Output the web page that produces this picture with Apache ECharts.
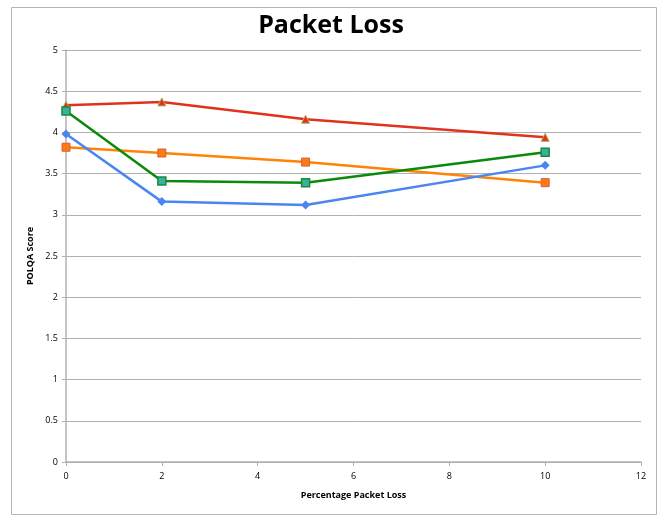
<!DOCTYPE html>
<html><head><meta charset="utf-8">
<script src="https://cdn.jsdelivr.net/npm/echarts@6/dist/echarts.min.js"></script>
<style>html,body{margin:0;padding:0;background:#fff}#c{width:662px;height:519px}</style>
</head><body><div id="c"></div>
<script>
const xValues = [0, 2, 5, 10];
const redSeries = [4.33, 4.37, 4.16, 3.94];
const orangeSeries = [3.82, 3.75, 3.64, 3.39];
const greenSeries = [4.26, 3.41, 3.39, 3.76];
const blueSeries = [3.98, 3.16, 3.12, 3.60];

const pairs = v => xValues.map((x, i) => [x, v[i]]);
const chart = echarts.init(document.getElementById('c'));
const font = '"Open Sans", "Liberation Sans", sans-serif';
function mk(name, data, color, symbol, size, itemStyle) {
  return { name, type: 'line', data: pairs(data), symbol, symbolSize: size,
    lineStyle: { color, width: 2.5 }, itemStyle, z: 3, animation: false };
}
chart.setOption({
  animation: false,
  title: { text: 'Packet Loss', left: 'center', top: 8,
    textStyle: { fontFamily: font, fontWeight: 'bold', fontSize: 25, color: '#000' } },
  graphic: [{ type: 'rect', shape: { x: 11.5, y: 7.5, width: 645, height: 507 },
    style: { fill: 'none', stroke: '#b5b5b5', lineWidth: 1 }, z: -1 }],
  grid: { left: 66, right: 21, top: 50, bottom: 57 },
  xAxis: { type: 'value', min: 0, max: 12, interval: 2,
    name: 'Percentage Packet Loss', nameLocation: 'middle', nameGap: 29,
    nameTextStyle: { fontFamily: font, fontWeight: 'bold', fontSize: 9, color: '#000' },
    axisLine: { lineStyle: { color: '#b0b0b0', width: 1.5 } },
    axisTick: { show: true, length: 4, lineStyle: { color: '#b0b0b0' } },
    axisLabel: { fontFamily: font, fontSize: 9, color: '#000', margin: 10 },
    splitLine: { show: false } },
  yAxis: { type: 'value', min: 0, max: 5, interval: 0.5,
    name: 'POLQA Score', nameLocation: 'middle', nameGap: 30,
    nameTextStyle: { fontFamily: font, fontWeight: 'bold', fontSize: 9, color: '#000' },
    axisLine: { show: true, lineStyle: { color: '#b0b0b0', width: 1.5 } },
    axisTick: { show: true, length: 4, lineStyle: { color: '#b0b0b0' } },
    axisLabel: { fontFamily: font, fontSize: 9, color: '#000', margin: 8 },
    splitLine: { lineStyle: { color: '#b0b0b0', width: 1 } } },
  series: [
    mk('Red', redSeries, '#e2311d', 'triangle', 8, { color: '#e2311d', borderColor: '#a8b060', borderWidth: 1 }),
    mk('Orange', orangeSeries, '#ff8306', 'rect', 8, { color: '#ff7a10', borderColor: '#d06040', borderWidth: 1 }),
    mk('Green', greenSeries, '#0a8a0a', 'rect', 8, { color: '#3ab0a0', borderColor: '#1a8a3a', borderWidth: 1.5 }),
    mk('Blue', blueSeries, '#4a86f0', 'diamond', 9, { color: '#4a86f0', borderColor: '#4a86f0', borderWidth: 0 })
  ]
});
</script></body></html>
